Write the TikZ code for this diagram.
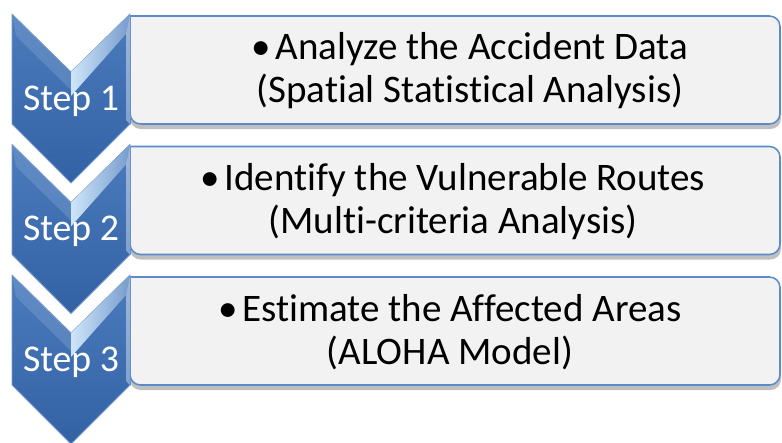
\documentclass[tikz,border=0pt]{standalone}
\usepackage{fontspec}
\setmainfont{Carlito}[Ligatures=NoCommon]
\definecolor{stepblue}{RGB}{60,112,182}
\definecolor{stepdark}{RGB}{50,98,164}
\definecolor{bevel}{RGB}{206,230,250}
\definecolor{boxgray}{RGB}{242,242,242}
\definecolor{boxline}{RGB}{92,140,200}
\begin{document}
\begin{tikzpicture}[x=0.02cm, y=-0.02cm, line join=round,
    stepshape/.style={top color=stepblue!92!white, bottom color=stepdark, draw=stepblue!70!white, line width=.5pt},
    steplabel/.style={text=white, font=\fontsize{21.5}{26}\selectfont, anchor=base, inner sep=0pt},
    stepbox/.style={fill=boxgray, draw=boxline, line width=.9pt},
    boxtext/.style={font=\fontsize{22.2}{24.4}\selectfont, align=center, inner sep=0pt}]
	\def\xl{12} \def\xm{71} \def\xr{130} \def\xe{780}
	\useasboundingbox (0,0) rectangle (782,443);
	\foreach \i/\y/\xt/\la/\lb in {1/14/470/{Analyze the Accident Data}/{(Spatial Statistical Analysis)},
	    2/144.5/453/{Identify the Vulnerable Routes}/{(Multi-criteria Analysis)},
	    3/275/450/{Estimate the Affected Areas}/{(ALOHA Model)}}{
		% box with its shadow
		\fill[black, opacity=.25, rounded corners=6pt] (\xr,\y+6) -- (\xe+1,\y+6) -- (\xe+1,\y+115) -- (\xr,\y+115) -- cycle;
		\path[stepbox] (\xr,\y+110) -- (\xr,\y+2) [rounded corners=6pt] -- (\xe,\y+2) -- (\xe,\y+110) -- (\xr,\y+110) [sharp corners] -- cycle;
		% chevron
		\path[stepshape] (\xl,\y) -- (\xm,\y+58) -- (\xr,\y) -- (\xr,\y+110) -- (\xm,\y+169) -- (\xl,\y+110) -- cycle;
		\fill[stepblue!65!white, opacity=.4] (\xl,\y) -- (\xm,\y+58) -- (\xm,\y+76) -- (\xl+4,\y+22) -- cycle;
		\shade[left color=bevel, right color=stepblue!70!white] (\xm,\y+58) -- (\xr,\y) -- (\xr-4,\y+20) -- (\xm,\y+82) -- cycle;
		\shade[top color=stepblue!50!white, bottom color=stepblue!65!white] (\xr-4,\y+20) -- (\xr,\y) -- (\xr,\y+110) -- (\xr-4,\y+106) -- cycle;
		\node[steplabel] (step\i) at (\xm,\y+96) {Step \i};
		\node[boxtext] (txt\i) at (\xt,\y+57) {•\kern2.5pt\la\\\lb};
	}
\end{tikzpicture}
\end{document}
